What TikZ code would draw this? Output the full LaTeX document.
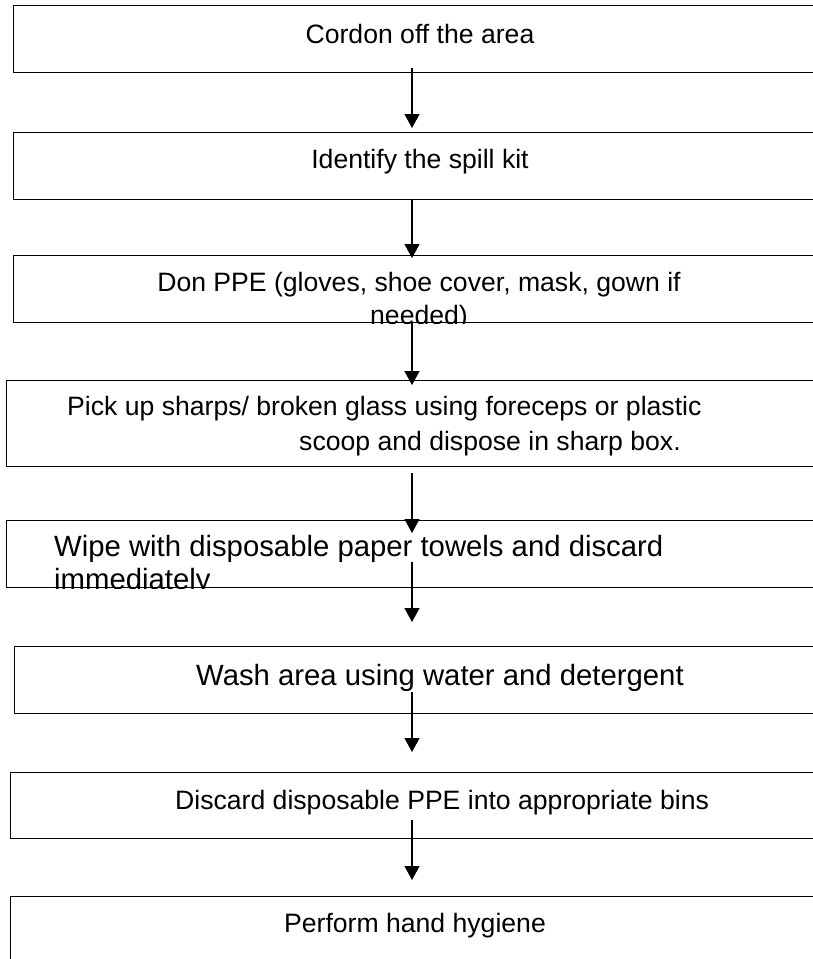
\documentclass[tikz,border=0pt]{standalone}
\usepackage{fontspec}
\setmainfont{Liberation Sans}
\usetikzlibrary{arrows.meta}
\begin{document}
\begin{tikzpicture}[x=1pt,y=-1pt,
  stepbox/.style={draw=black, line width=1.4pt, rectangle, anchor=north west, inner sep=0pt, minimum width=830pt},
  txt/.style={inner sep=0pt, font=\fontsize{26.6}{35}\selectfont},
  bigtxt/.style={inner sep=0pt, font=\fontsize{29.3}{34}\selectfont},
  arr/.style={line width=1.3pt, -{Triangle[length=14pt,width=15pt]}}]
\useasboundingbox (0,0) rectangle (813,959);
\clip (0,0) rectangle (813,959);
% boxes
\node[stepbox, minimum height=67pt] (b1) at (13,5) {};
\node[stepbox, minimum height=67pt] (b2) at (13,132) {};
\node[stepbox, minimum height=67pt] (b3) at (13,255) {};
\node[stepbox, minimum height=86pt] (b4) at (6,380) {};
\node[stepbox, minimum height=67pt] (b5) at (6,520) {};
\node[stepbox, minimum height=67pt] (b6) at (14,646) {};
\node[stepbox, minimum height=66pt] (b7) at (10,772) {};
\node[stepbox, minimum height=100pt] (b8) at (10,896) {};
% texts
\node[txt, anchor=base] (t1) at (420,43) {Cordon off the area};
\node[txt, anchor=base] (t2) at (420,168) {Identify the spill kit};
\begin{scope}
  \clip (b3.north west) rectangle (b3.south east);
  \node[txt, anchor=base] (t3a) at (419,291) {Don PPE (gloves, shoe cover, mask, gown if};
  \node[txt, anchor=base] (t3b) at (419,324) {needed)};
\end{scope}
\node[txt, anchor=base west] (t4a) at (67,415) {Pick up sharps/ broken glass using foreceps or plastic};
\node[txt, anchor=base west] (t4b) at (299,450) {scoop and dispose in sharp box.};
\begin{scope}
  \clip (b5.north west) rectangle (b5.south east);
  \node[bigtxt, anchor=base west] (t5a) at (54,556) {Wipe with disposable paper towels and discard};
  \node[bigtxt, anchor=base west] (t5b) at (54,589) {immediately};
\end{scope}
\node[bigtxt, anchor=base west] (t6) at (196,685) {Wash area using water and detergent};
\node[txt, anchor=base west] (t7) at (175,809) {Discard disposable PPE into appropriate bins};
\node[txt, anchor=base] (t8) at (415,932) {Perform hand hygiene};
% arrows
\coordinate (a1s) at (412,68);  \coordinate (a1e) at (412,128);
\coordinate (a2s) at (412,199); \coordinate (a2e) at (412,258);
\coordinate (a3s) at (412,322); \coordinate (a3e) at (412,385);
\coordinate (a4s) at (412,473); \coordinate (a4e) at (412,533);
\coordinate (a5s) at (412,562); \coordinate (a5e) at (412,622);
\coordinate (a6s) at (412,692); \coordinate (a6e) at (412,752);
\coordinate (a7s) at (412,820); \coordinate (a7e) at (412,880);
\draw[arr] (a1s) -- (a1e);
\draw[arr] (a2s) -- (a2e);
\draw[arr] (a3s) -- (a3e);
\draw[arr] (a4s) -- (a4e);
\draw[arr] (a5s) -- (a5e);
\draw[arr] (a6s) -- (a6e);
\draw[arr] (a7s) -- (a7e);
\end{tikzpicture}
\end{document}
